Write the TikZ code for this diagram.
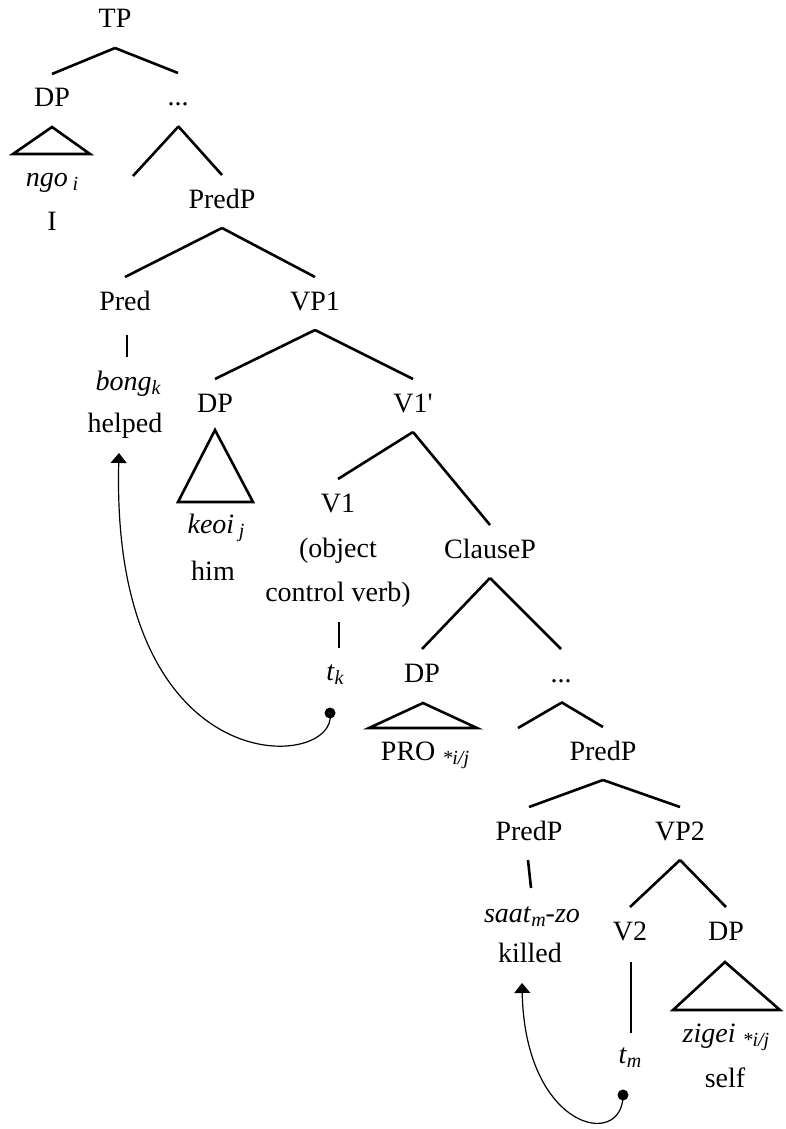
\documentclass[tikz,border=0pt]{standalone}
\usepackage{fontspec}
\setmainfont{Liberation Serif}
\usetikzlibrary{calc,arrows.meta}
\newcommand\lsub[1]{\raisebox{-0.15em}{\fontsize{20}{20}\selectfont\itshape #1}}
\tikzset{
  lbl/.style={anchor=base, inner sep=0pt, font=\fontsize{28}{34}\selectfont},
  tree/.style={line width=2.6pt, line cap=butt, line join=miter},
  move/.style={line width=1.2pt, -{Triangle[width=16pt,length=10pt]}},
  dotmark/.style={fill=black}
}
\newcommand\branch[2]{\draw[tree] ($(#1.base)+(0,20)$) -- ($(#2.base)+(0,-33)$);}
\begin{document}
\begin{tikzpicture}[x=1pt,y=-1pt]
\useasboundingbox (0,0) rectangle (785,1129);
% nodes
\node[lbl] (tp) at (115,28) {TP};
\node[lbl] (dp1) at (52,107) {DP};
\node[lbl] (dots1) at (178,106) {...};
\node[lbl] (ngo) at (52,186) {\textit{ngo}\,\lsub{i}};
\node[lbl] (I) at (52,230) {I};
\node[lbl] (predp1) at (222,208) {PredP};
\node[lbl] (pred) at (125,310) {Pred};
\node[lbl] (vp1) at (315,310) {VP1};
\node[lbl] (bong) at (128,390) {\textit{bong}\lsub{k}};
\node[lbl] (helped) at (125,432) {helped};
\node[lbl] (dp2) at (215,412) {DP};
\node[lbl] (v1bar) at (413,412) {V1\textquotesingle};
\node[lbl] (keoi) at (216,533) {\textit{keoi}\,\lsub{j}};
\node[lbl] (him) at (213,580) {him};
\node[lbl] (v1) at (338,512) {V1};
\node[lbl] (obj1) at (338,557) {(object};
\node[lbl] (obj2) at (338,601) {control verb)};
\node[lbl] (clausep) at (490,558) {ClauseP};
\node[lbl] (tk) at (335,680) {\textit{t}\lsub{k}};
\node[lbl] (dp3) at (422,682) {DP};
\node[lbl] (dots2) at (561,682) {...};
\node[lbl] (pro) at (425,760) {PRO \lsub{*i/j}};
\node[lbl] (predp2) at (603,760) {PredP};
\node[lbl] (predp3) at (529,840) {PredP};
\node[lbl] (vp2) at (680,840) {VP2};
\node[lbl] (saat) at (532,922) {\textit{saat}\lsub{m}\textit{-zo}};
\node[lbl] (killed) at (530,962) {killed};
\node[lbl] (v2) at (630,940) {V2};
\node[lbl] (dp4) at (726,940) {DP};
\node[lbl] (zigei) at (726,1042) {\textit{zigei} \lsub{*i/j}};
\node[lbl] (tm) at (630,1063) {\textit{t}\lsub{m}};
\node[lbl] (self) at (725,1087) {self};
% dangling branch ends
\coordinate (dang1) at (133,176);
\coordinate (dang2) at (518,728);
% branches
\branch{tp}{dp1}
\branch{tp}{dots1}
\draw[tree] ($(dots1.base)+(0,21)$) -- (dang1);
\branch{dots1}{predp1}
\branch{predp1}{pred}
\branch{predp1}{vp1}
\branch{vp1}{dp2}
\branch{vp1}{v1bar}
\branch{v1bar}{v1}
\branch{v1bar}{clausep}
\branch{clausep}{dp3}
\branch{clausep}{dots2}
\draw[tree] ($(dots2.base)+(0,21)$) -- (dang2);
\branch{dots2}{predp2}
\branch{predp2}{predp3}
\branch{predp2}{vp2}
\branch{vp2}{v2}
\branch{vp2}{dp4}
% unary lines
\draw[tree] ($(pred.base)+(2,25)$) -- ($(bong.base)+(-1,-33)$);
\draw[tree] ($(obj2.base)+(1,21)$) -- ($(tk.base)+(4,-32)$);
\draw[tree] ($(predp3.base)+(-1,20)$) -- ($(saat.base)+(-1,-34)$);
\draw[tree] ($(v2.base)+(1,22)$) -- ($(tm.base)+(1,-30)$);
% triangles
\draw[tree] ($(dp1.base)+(0,20)$) -- ($(dp1.base)+(-39,47)$) -- ($(dp1.base)+(38,47)$) -- cycle;
\draw[tree] ($(dp2.base)+(0,18)$) -- ($(dp2.base)+(-37,90)$) -- ($(dp2.base)+(38,90)$) -- cycle;
\draw[tree] ($(dp3.base)+(1,21)$) -- ($(dp3.base)+(-53,46)$) -- ($(dp3.base)+(55,46)$) -- cycle;
\draw[tree] ($(dp4.base)+(-1,22)$) -- ($(dp4.base)+(-53,70)$) -- ($(dp4.base)+(54,70)$) -- cycle;
% movement arrows
\coordinate (d1) at (330,713);
\coordinate (a1) at (119,453);
\coordinate (d2) at (623,1095);
\coordinate (a2) at (522,983);
\fill[dotmark] (d1) circle (5.5);
\fill[dotmark] (d2) circle (5.5);
\draw[move] (d1) .. controls (340,770) and (110,790) .. (a1);
\draw[move] (d2) .. controls (623,1150) and (525,1130) .. (a2);
\end{tikzpicture}
\end{document}
